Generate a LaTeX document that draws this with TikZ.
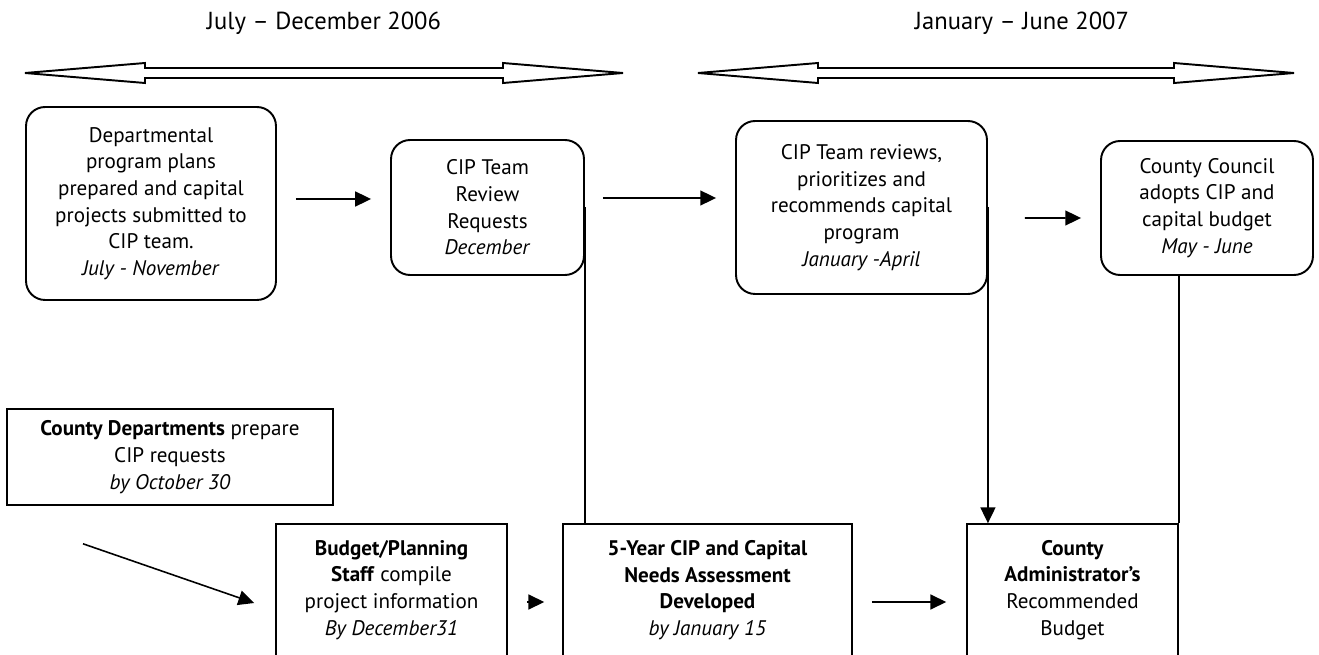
\documentclass[tikz,border=0pt]{standalone}
\usepackage{fontspec}
\setmainfont{PT Sans}
\usetikzlibrary{arrows.meta}
\tikzset{
	every node/.append style={font=\fontsize{12}{15.2}\selectfont},
	box/.style={draw,rectangle,align=center,line width=.9pt},
	rbox/.style={box,rounded corners=.38cm,line width=1.1pt},
	period/.style={font=\fontsize{14}{16}\selectfont},
	span/.style={draw,line width=1.1pt,line join=miter},
	flow/.style={-{Triangle[length=9pt,width=8.5pt]},line width=.9pt}
}
\begin{document}
\begin{tikzpicture}[x=.02cm,y=-.02cm]
	\useasboundingbox (0,0) rectangle (1319,655);
	\clip (0,0) rectangle (1319,655);
	\node[period] (half1) at (324,23) {July -- December 2006};
	\node[period] (half2) at (1022,23) {January -- June 2007};
	\foreach \a/\b in {25/623,698/1294}
		\draw[span] (\a,73) -- (\a+120,63) -- (\a+120,68) -- (\b-120,68) -- (\b-120,63) -- (\b,73)
			-- (\b-120,83) -- (\b-120,78) -- (\a+120,78) -- (\a+120,83) -- cycle;

	\node[rbox,minimum width=5cm,minimum height=3.86cm] (dep) at (151,203.5) {Departmental\\program plans\\prepared and capital\\projects submitted to\\CIP team.\\\textit{July - November}};
	\node[rbox,minimum width=3.86cm,minimum height=2.7cm] (rev) at (487.5,207.5) {CIP Team\\Review\\Requests\\\textit{December}};
	\node[rbox,minimum width=5.02cm,minimum height=3.46cm] (rec) at (861.5,207.5) {CIP Team reviews,\\prioritizes and\\recommends capital\\program\\\textit{January -April}};
	\node[rbox,minimum width=4.24cm,minimum height=2.68cm] (council) at (1207,208) {County Council\\adopts CIP and\\capital budget\\\textit{May - June}};

	\node[box,minimum width=6.52cm,minimum height=1.92cm] (cdep) at (170,457) {\textbf{County Departments} prepare\\CIP requests\\\textit{by October 30}};
	\node[box,minimum width=4.62cm,minimum height=2.64cm] (budget) at (391.5,590) {\textbf{Budget/Planning}\\\textbf{Staff} compile\\project information\\\textit{By December31}};
	\node[box,minimum width=5.78cm,minimum height=2.64cm] (fiveyr) at (707.5,590) {\textbf{5-Year CIP and Capital}\\\textbf{Needs Assessment}\\\textbf{Developed}\\\textit{by January 15}};
	\node[box,minimum width=4.22cm,minimum height=2.64cm] (admin) at (1072.5,590) {\textbf{County}\\\textbf{Administrator's}\\Recommended\\Budget};

	\draw[flow] ([shift={(19,-4.5)}]dep.east) -- ([shift={(-19,-8.5)}]rev.west);
	\draw[flow] ([shift={(18,-9.5)}]rev.east) -- ([shift={(-19,-9.5)}]rec.west);
	\draw[flow] ([shift={(37,10.5)}]rec.east) -- ([shift={(-19,10)}]council.west);
	\draw[flow] ([shift={(-87,38)}]cdep.south) -- ([shift={(-21,13)}]budget.west);
	\draw[flow] ([shift={(19,12)}]budget.east) -- ([shift={(-18,12)}]fiveyr.west);
	\draw[flow] ([shift={(19,12)}]fiveyr.east) -- ([shift={(-20,12)}]admin.west);
	\draw[line width=.9pt] (rev.east) -- (rev.east |- fiveyr.north);
	\draw[flow] (rec.east) -- (rec.east |- admin.north);
	\draw[line width=.9pt] (admin.north east |- council.south) -- (admin.north east);
\end{tikzpicture}
\end{document}
